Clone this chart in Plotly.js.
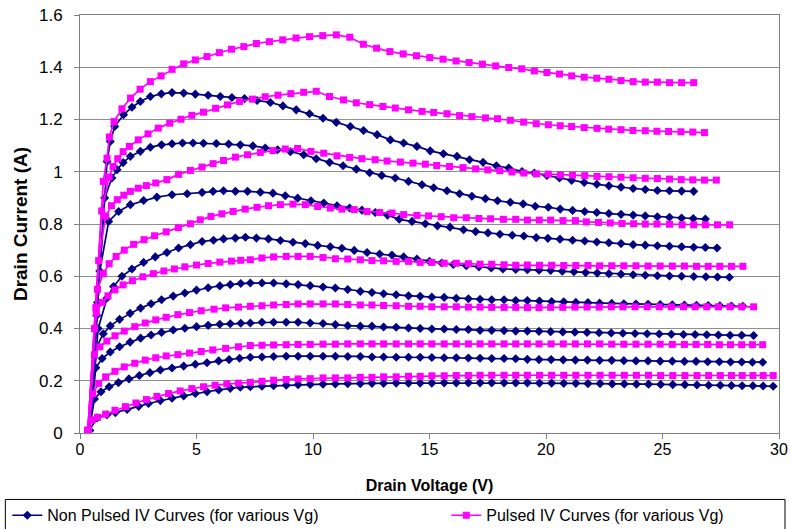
<!DOCTYPE html>
<html>
<head>
<meta charset="utf-8">
<script src="https://cdn.plot.ly/plotly-3.0.1.min.js"></script>
<style>
  html, body { margin: 0; padding: 0; background: #fff; }
  #chart { width: 791px; height: 529px; }
</style>
</head>
<body>
<div id="chart"></div>
<script>
// ---------------- Data: Non Pulsed IV curves (navy), bottom (1) to top (8) ----------------
const npV1 = [0.4,0.73,1.16,1.52,2.02,2.52,2.94,3.45,3.95,4.45,4.95,5.45,5.95,6.45,6.88,7.31,7.81,8.31,8.85,9.36,9.88,10.43,10.96,11.49,12.03,12.53,13.03,13.57,14.1,14.6,15.1,15.63,16.15,16.67,17.17,17.67,18.2,18.7,19.2,19.72,20.24,20.76,21.28,21.8,22.32,22.84,23.36,23.88,24.4,24.92,25.44,25.96,26.48,26.98,27.48,27.96,28.42,28.88,29.32,29.75];
const npI1 = [0.01,0.058,0.07,0.078,0.09,0.102,0.113,0.124,0.133,0.142,0.151,0.158,0.165,0.171,0.175,0.177,0.179,0.181,0.183,0.185,0.186,0.187,0.188,0.189,0.189,0.19,0.19,0.191,0.191,0.191,0.191,0.192,0.192,0.192,0.192,0.192,0.192,0.192,0.192,0.191,0.191,0.19,0.19,0.189,0.189,0.188,0.188,0.187,0.187,0.186,0.185,0.185,0.184,0.183,0.183,0.182,0.181,0.181,0.18,0.179];

const npV2 = [0.4,0.62,0.9,1.25,1.65,2.1,2.55,3.0,3.45,3.95,4.45,4.95,5.45,5.95,6.4,6.85,7.31,7.81,8.31,8.85,9.36,9.88,10.43,10.96,11.49,12.03,12.53,13.03,13.57,14.1,14.6,15.1,15.63,16.15,16.67,17.17,17.67,18.2,18.7,19.2,19.7,20.22,20.74,21.26,21.78,22.3,22.82,23.34,23.86,24.38,24.9,25.42,25.94,26.44,26.94,27.44,27.92,28.4,28.86,29.3];
const npI2 = [0.01,0.13,0.158,0.177,0.193,0.207,0.22,0.231,0.241,0.249,0.256,0.263,0.269,0.276,0.281,0.286,0.29,0.291,0.293,0.294,0.294,0.294,0.294,0.294,0.293,0.293,0.291,0.291,0.29,0.29,0.29,0.289,0.288,0.288,0.287,0.286,0.285,0.285,0.284,0.282,0.281,0.281,0.28,0.279,0.279,0.278,0.278,0.277,0.276,0.276,0.275,0.275,0.274,0.274,0.273,0.273,0.272,0.272,0.271,0.271];

const npV3 = [0.4,0.68,0.95,1.3,1.7,2.15,2.6,3.05,3.5,4.0,4.5,5.0,5.5,6.0,6.45,6.9,7.31,7.81,8.31,8.85,9.36,9.88,10.43,10.96,11.49,12.03,12.53,13.03,13.57,14.1,14.6,15.1,15.63,16.15,16.67,17.17,17.67,18.2,18.7,19.2,19.7,20.2,20.72,21.24,21.76,22.28,22.8,23.3,23.82,24.34,24.86,25.38,25.9,26.4,26.9,27.4,27.9,28.4,28.91];
const npI3 = [0.01,0.25,0.285,0.31,0.33,0.348,0.363,0.375,0.385,0.394,0.401,0.407,0.412,0.416,0.418,0.42,0.421,0.424,0.424,0.424,0.424,0.421,0.419,0.415,0.411,0.409,0.409,0.406,0.405,0.402,0.4,0.398,0.398,0.396,0.396,0.393,0.393,0.392,0.39,0.39,0.389,0.388,0.387,0.386,0.385,0.384,0.383,0.382,0.381,0.38,0.379,0.378,0.377,0.377,0.376,0.375,0.374,0.374,0.373];

const npV4 = [0.4,0.72,1.0,1.3,1.7,2.15,2.6,3.05,3.5,4.0,4.5,5.0,5.5,6.0,6.45,6.9,7.31,7.81,8.31,8.85,9.36,9.88,10.43,10.96,11.49,12.03,12.53,13.03,13.57,14.1,14.6,15.1,15.63,16.15,16.67,17.17,17.67,18.2,18.7,19.2,19.72,20.24,20.76,21.28,21.8,22.3,22.82,23.34,23.86,24.38,24.9,25.42,25.94,26.46,26.96,27.46,27.96,28.45];
const npI4 = [0.01,0.33,0.38,0.41,0.435,0.458,0.478,0.495,0.51,0.524,0.536,0.547,0.556,0.563,0.568,0.572,0.574,0.574,0.574,0.571,0.568,0.564,0.559,0.555,0.549,0.542,0.538,0.533,0.529,0.525,0.523,0.52,0.519,0.516,0.514,0.512,0.51,0.51,0.507,0.507,0.505,0.503,0.502,0.5,0.499,0.497,0.496,0.495,0.494,0.493,0.492,0.491,0.49,0.489,0.488,0.487,0.486,0.485];

const npV5 = [0.4,0.78,1.16,1.44,1.8,2.23,2.73,3.23,3.73,4.23,4.74,5.24,5.73,6.16,6.67,7.1,7.57,8.09,8.6,9.14,9.67,10.2,10.74,11.24,11.77,12.32,12.86,13.39,13.89,14.46,15.0,15.52,16.02,16.58,17.12,17.65,18.15,18.7,19.2,19.7,20.2,20.7,21.2,21.7,22.2,22.7,23.22,23.74,24.26,24.78,25.3,25.82,26.34,26.86,27.36,27.87];
const npI5 = [0.01,0.4,0.517,0.561,0.6,0.628,0.653,0.674,0.691,0.708,0.721,0.733,0.738,0.743,0.746,0.749,0.746,0.743,0.737,0.73,0.725,0.718,0.713,0.707,0.699,0.691,0.685,0.681,0.674,0.666,0.657,0.651,0.645,0.64,0.636,0.632,0.628,0.626,0.625,0.623,0.622,0.619,0.617,0.614,0.612,0.61,0.608,0.606,0.604,0.602,0.601,0.6,0.599,0.598,0.597,0.596];

const npV6 = [0.4,0.85,1.23,1.66,2.16,2.73,3.3,3.95,4.6,5.24,5.71,6.16,6.67,7.19,7.74,8.28,8.81,9.34,9.91,10.46,11.03,11.57,12.1,12.67,13.2,13.7,14.25,14.82,15.34,15.88,16.46,16.98,17.51,18.02,18.55,19.05,19.58,20.08,20.6,21.14,21.66,22.18,22.7,23.22,23.74,24.26,24.78,25.3,25.82,26.34,26.84,27.34];
const npI6 = [0.01,0.62,0.81,0.848,0.874,0.89,0.903,0.912,0.916,0.921,0.925,0.927,0.925,0.925,0.922,0.918,0.908,0.899,0.889,0.88,0.87,0.861,0.853,0.844,0.834,0.818,0.81,0.801,0.793,0.788,0.778,0.771,0.766,0.761,0.757,0.754,0.748,0.745,0.742,0.738,0.735,0.731,0.728,0.725,0.721,0.719,0.717,0.715,0.713,0.711,0.71,0.708];

const npV7 = [0.4,0.72,1.06,1.37,1.59,1.85,2.16,2.59,3.02,3.5,3.95,4.4,4.85,5.3,5.85,6.38,6.88,7.42,7.95,8.48,9.03,9.6,10.14,10.71,11.29,11.86,12.43,12.95,13.53,14.1,14.68,15.18,15.75,16.29,16.82,17.4,17.92,18.47,19.02,19.54,20.1,20.61,21.14,21.66,22.18,22.7,23.22,23.74,24.26,24.78,25.3,25.82,26.32,26.84];
const npI7 = [0.01,0.45,0.9,0.976,1.008,1.035,1.059,1.078,1.094,1.103,1.107,1.11,1.11,1.109,1.108,1.106,1.103,1.099,1.091,1.084,1.077,1.065,1.05,1.036,1.023,1.01,0.996,0.986,0.976,0.963,0.95,0.939,0.927,0.916,0.906,0.897,0.889,0.883,0.877,0.868,0.864,0.857,0.852,0.848,0.844,0.84,0.837,0.834,0.831,0.828,0.826,0.823,0.821,0.819];

const npV8 = [0.4,0.75,1.16,1.3,1.49,1.87,2.23,2.59,3.02,3.49,3.95,4.45,4.95,5.5,6.02,6.52,7.06,7.6,8.17,8.71,9.28,9.85,10.43,11.0,11.6,12.17,12.75,13.32,13.89,14.46,15.03,15.6,16.18,16.72,17.3,17.87,18.4,18.97,19.5,20.04,20.58,21.1,21.64,22.18,22.7,23.22,23.74,24.26,24.78,25.3,25.82,26.34];
const npI8 = [0.01,0.5,1.039,1.116,1.173,1.218,1.247,1.269,1.288,1.298,1.303,1.301,1.297,1.293,1.288,1.284,1.28,1.273,1.265,1.252,1.237,1.222,1.205,1.189,1.173,1.158,1.142,1.122,1.11,1.097,1.08,1.069,1.059,1.046,1.036,1.023,1.014,1.001,0.995,0.986,0.976,0.967,0.959,0.952,0.946,0.941,0.936,0.932,0.928,0.927,0.926,0.925];

// ---------------- Data: Pulsed IV curves (magenta), bottom (1) to top (8) ----------------
const pV1 = [0.34,0.52,0.75,1.1,1.5,1.95,2.4,2.85,3.3,3.8,4.3,4.8,5.3,5.8,6.3,6.8,7.31,7.81,8.31,8.85,9.36,9.88,10.43,10.96,11.49,12.03,12.53,13.03,13.57,14.1,14.6,15.1,15.63,16.15,16.67,17.17,17.67,18.2,18.7,19.2,19.72,20.24,20.76,21.28,21.8,22.32,22.84,23.36,23.88,24.4,24.92,25.44,25.96,26.48,26.98,27.48,27.96,28.42,28.88,29.32,29.75];
const pI1 = [0.01,0.05,0.06,0.072,0.087,0.101,0.115,0.128,0.14,0.151,0.161,0.17,0.177,0.183,0.188,0.191,0.194,0.198,0.202,0.205,0.207,0.208,0.211,0.211,0.211,0.213,0.213,0.215,0.215,0.217,0.217,0.219,0.219,0.22,0.22,0.221,0.221,0.221,0.221,0.221,0.221,0.221,0.221,0.221,0.221,0.221,0.221,0.221,0.221,0.221,0.22,0.22,0.22,0.22,0.22,0.22,0.22,0.22,0.22,0.22,0.22];

const pV2 = [0.34,0.55,0.8,1.1,1.5,1.9,2.35,2.8,3.25,3.7,4.2,4.7,5.2,5.7,6.25,6.8,7.31,7.81,8.31,8.85,9.36,9.88,10.43,10.96,11.49,12.03,12.53,13.03,13.57,14.1,14.6,15.1,15.63,16.15,16.67,17.17,17.67,18.2,18.7,19.2,19.7,20.22,20.74,21.26,21.78,22.3,22.82,23.34,23.86,24.38,24.9,25.42,25.94,26.44,26.94,27.44,27.92,28.4,28.86,29.3];
const pI2 = [0.01,0.15,0.19,0.215,0.236,0.253,0.267,0.279,0.288,0.295,0.3,0.306,0.312,0.318,0.324,0.33,0.335,0.336,0.337,0.338,0.339,0.339,0.34,0.34,0.341,0.341,0.341,0.341,0.341,0.341,0.341,0.341,0.341,0.341,0.341,0.341,0.341,0.341,0.341,0.341,0.341,0.341,0.341,0.341,0.341,0.341,0.34,0.34,0.34,0.34,0.34,0.339,0.339,0.339,0.339,0.338,0.338,0.338,0.338,0.338];

const pV3 = [0.34,0.62,0.85,1.15,1.5,1.9,2.35,2.8,3.25,3.7,4.2,4.7,5.2,5.75,6.25,6.8,7.31,7.81,8.31,8.85,9.36,9.88,10.43,10.96,11.49,12.03,12.53,13.03,13.57,14.1,14.6,15.1,15.63,16.15,16.67,17.17,17.67,18.2,18.7,19.2,19.7,20.2,20.72,21.24,21.76,22.28,22.8,23.3,23.82,24.34,24.86,25.38,25.9,26.4,26.9,27.4,27.9,28.4,28.91];
const pI3 = [0.01,0.3,0.33,0.352,0.372,0.39,0.407,0.421,0.433,0.443,0.453,0.461,0.468,0.474,0.479,0.482,0.485,0.487,0.49,0.492,0.494,0.494,0.494,0.494,0.492,0.49,0.49,0.488,0.487,0.485,0.485,0.483,0.483,0.483,0.482,0.482,0.481,0.481,0.481,0.48,0.48,0.481,0.481,0.482,0.482,0.482,0.483,0.483,0.483,0.483,0.483,0.483,0.483,0.483,0.483,0.483,0.483,0.483,0.483];

const pV4 = [0.34,0.7,0.95,1.2,1.5,1.85,2.25,2.7,3.15,3.6,4.05,4.5,5.0,5.5,6.0,6.5,6.9,7.31,7.81,8.31,8.85,9.36,9.88,10.43,10.96,11.49,12.03,12.53,13.03,13.57,14.1,14.6,15.1,15.63,16.15,16.67,17.17,17.67,18.2,18.7,19.2,19.72,20.24,20.76,21.28,21.8,22.3,22.82,23.34,23.86,24.38,24.9,25.42,25.94,26.46,26.96,27.46,27.96,28.45];
const pI4 = [0.01,0.46,0.5,0.525,0.548,0.567,0.583,0.598,0.61,0.62,0.628,0.636,0.643,0.649,0.654,0.658,0.661,0.663,0.67,0.674,0.676,0.676,0.676,0.672,0.667,0.666,0.663,0.66,0.659,0.657,0.657,0.653,0.653,0.65,0.65,0.648,0.646,0.646,0.644,0.642,0.643,0.642,0.642,0.641,0.641,0.641,0.64,0.64,0.64,0.64,0.639,0.639,0.639,0.639,0.638,0.638,0.638,0.638,0.638];

const pV5 = [0.34,0.75,1.0,1.25,1.55,1.9,2.3,2.75,3.2,3.7,4.22,4.74,5.16,5.62,6.09,6.57,7.09,7.6,8.09,8.6,9.14,9.67,10.2,10.74,11.24,11.77,12.32,12.86,13.39,13.89,14.46,14.96,15.5,16.04,16.58,17.12,17.62,18.17,18.7,19.2,19.71,20.2,20.73,21.26,21.73,22.25,22.76,23.26,23.76,24.26,24.76,25.3,25.84,26.34,26.84,27.36,27.88];
const pI5 = [0.01,0.55,0.61,0.648,0.676,0.7,0.722,0.74,0.755,0.77,0.786,0.801,0.816,0.829,0.839,0.848,0.857,0.864,0.87,0.874,0.876,0.874,0.867,0.861,0.857,0.855,0.848,0.844,0.842,0.836,0.833,0.831,0.828,0.824,0.824,0.821,0.82,0.818,0.818,0.815,0.815,0.815,0.813,0.813,0.808,0.806,0.804,0.802,0.801,0.8,0.8,0.799,0.797,0.797,0.797,0.797,0.797];

const pV6 = [0.34,0.8,1.1,1.35,1.6,1.88,2.16,2.5,2.85,3.25,3.73,4.23,4.74,5.24,5.71,6.16,6.67,7.19,7.74,8.28,8.81,9.34,9.91,10.46,11.03,11.57,12.1,12.67,13.18,13.75,14.29,14.82,15.31,15.86,16.44,16.98,17.5,18.02,18.54,19.05,19.59,20.1,20.62,21.14,21.66,22.19,22.7,23.22,23.74,24.26,24.78,25.3,25.8,26.3,26.8,27.31];
const pI6 = [0.01,0.66,0.83,0.87,0.893,0.91,0.925,0.937,0.947,0.957,0.97,0.99,1.005,1.018,1.031,1.043,1.056,1.065,1.074,1.081,1.087,1.089,1.078,1.071,1.061,1.055,1.05,1.046,1.041,1.037,1.033,1.029,1.024,1.02,1.016,1.011,1.007,1.004,0.999,0.995,0.992,0.991,0.988,0.987,0.985,0.982,0.981,0.979,0.977,0.975,0.974,0.972,0.97,0.969,0.968,0.968];

const pV7 = [0.34,0.62,0.93,1.25,1.42,1.62,1.85,2.12,2.5,2.92,3.36,3.85,4.33,4.8,5.3,5.82,6.33,6.85,7.4,7.95,8.5,9.05,9.6,10.14,10.71,11.31,11.86,12.43,13.0,13.53,14.1,14.68,15.18,15.75,16.29,16.82,17.4,17.92,18.47,19.04,19.58,20.1,20.61,21.1,21.64,22.19,22.69,23.22,23.73,24.26,24.76,25.26,25.79,26.3,26.8];
const pI7 = [0.01,0.4,0.85,0.98,1.02,1.05,1.077,1.097,1.122,1.145,1.167,1.186,1.201,1.216,1.228,1.243,1.256,1.269,1.278,1.287,1.293,1.299,1.304,1.308,1.288,1.275,1.264,1.257,1.25,1.244,1.237,1.231,1.227,1.222,1.215,1.211,1.206,1.203,1.197,1.19,1.184,1.18,1.176,1.173,1.169,1.166,1.163,1.161,1.158,1.157,1.155,1.154,1.153,1.152,1.15];

const pV8 = [0.34,0.68,1.0,1.16,1.26,1.46,1.8,2.17,2.58,3.02,3.48,3.95,4.45,4.95,5.45,5.98,6.5,7.03,7.57,8.13,8.7,9.27,9.85,10.42,11.0,11.58,12.16,12.73,13.3,13.87,14.44,15.01,15.58,16.14,16.7,17.27,17.84,18.4,18.96,19.5,20.04,20.58,21.1,21.64,22.18,22.7,23.22,23.74,24.26,24.78,25.3,25.82,26.34];
const pI8 = [0.01,0.48,0.963,1.052,1.133,1.192,1.241,1.282,1.316,1.345,1.367,1.392,1.413,1.428,1.441,1.456,1.469,1.479,1.491,1.498,1.505,1.512,1.517,1.521,1.524,1.515,1.488,1.473,1.46,1.451,1.444,1.437,1.431,1.424,1.418,1.412,1.405,1.399,1.394,1.386,1.38,1.374,1.367,1.362,1.358,1.354,1.349,1.345,1.343,1.343,1.341,1.341,1.341];

const seriesNames = ['Non Pulsed IV Curves (for various Vg)', 'Pulsed IV Curves (for various Vg)'];
const xTitle = 'Drain Voltage (V)';
const yTitle = 'Drain Current (A)';

// ---------------- Build traces ----------------
const NAVY = '#000080';
const MAGENTA = '#FF00FF';
const npCurves = [[npV1,npI1],[npV2,npI2],[npV3,npI3],[npV4,npI4],[npV5,npI5],[npV6,npI6],[npV7,npI7],[npV8,npI8]];
const pCurves  = [[pV1,pI1],[pV2,pI2],[pV3,pI3],[pV4,pI4],[pV5,pI5],[pV6,pI6],[pV7,pI7],[pV8,pI8]];

const traces = [];
npCurves.forEach((c, k) => traces.push({
  x: c[0], y: c[1], type: 'scatter', mode: 'lines+markers',
  name: seriesNames[0], legend: 'legend', legendgroup: 'np', showlegend: k === 0,
  line: { color: NAVY, width: 1.7 },
  marker: { symbol: 'diamond', size: 7, color: NAVY }
}));
pCurves.forEach((c, k) => traces.push({
  x: c[0], y: c[1], type: 'scatter', mode: 'lines+markers',
  name: seriesNames[1], legend: 'legend2', legendgroup: 'p', showlegend: k === 0,
  line: { color: MAGENTA, width: 1.7 },
  marker: { symbol: 'square', size: 7, color: MAGENTA }
}));

const SANS = '"Liberation Sans", Arial, sans-serif';
const legendCommon = {
  orientation: 'h', xanchor: 'left', y: -0.197, yanchor: 'middle',
  bgcolor: 'rgba(0,0,0,0)', borderwidth: 0,
  font: { family: SANS, size: 16, color: '#000' }
};

const layout = {
  width: 791, height: 529,
  margin: { l: 80, r: 12, t: 15, b: 95.5, autoexpand: false },
  paper_bgcolor: '#ffffff', plot_bgcolor: '#ffffff',
  font: { family: SANS, size: 16, color: '#000' },
  showlegend: true,
  xaxis: {
    range: [0, 30], tick0: 0, dtick: 5,
    ticks: 'outside', ticklen: 5, tickcolor: '#808080', tickwidth: 1,
    showline: true, linecolor: '#808080', linewidth: 1, mirror: true,
    showgrid: false, zeroline: false,
    tickfont: { family: SANS, size: 16, color: '#000' },
    ticklabelstandoff: -3,
    title: { text: '<b>' + xTitle + '</b>', font: { family: SANS, size: 16, color: '#000' }, standoff: 22 }
  },
  yaxis: {
    range: [0, 1.6], tick0: 0, dtick: 0.2,
    ticks: 'outside', ticklen: 5, tickcolor: '#808080', tickwidth: 1,
    showline: true, linecolor: '#808080', linewidth: 1, mirror: true,
    showgrid: true, gridcolor: '#8f8f8f', gridwidth: 1, zeroline: false,
    tickfont: { family: SANS, size: 17, color: '#000' },
    ticklabelstandoff: 8,
    title: { text: '<b>' + yTitle + '</b>', font: { family: SANS, size: 19, color: '#000' }, standoff: 6 }
  },
  legend: Object.assign({ x: -0.104 }, legendCommon),
  legend2: Object.assign({ x: 0.524 }, legendCommon),
  shapes: [{
    type: 'rect', xref: 'paper', yref: 'paper',
    x0: -0.1068, x1: 1.0086, y0: -0.159, y1: -0.27,
    line: { color: '#000', width: 1 }, fillcolor: 'rgba(0,0,0,0)'
  }]
};

Plotly.newPlot('chart', traces, layout, { displayModeBar: false, staticPlot: true });
</script>
</body>
</html>
